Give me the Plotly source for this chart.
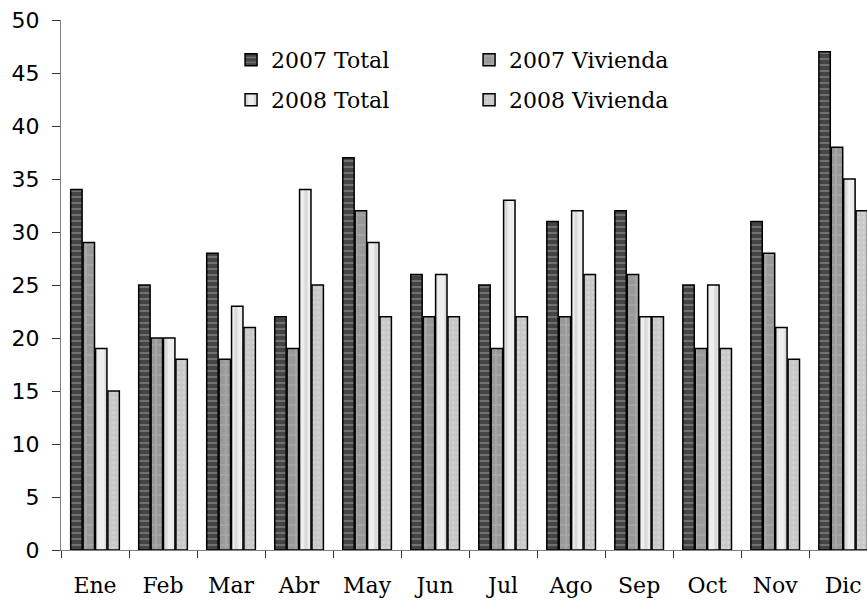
import plotly.graph_objects as go

meses = ["Ene", "Feb", "Mar", "Abr", "May", "Jun", "Jul", "Ago", "Sep", "Oct", "Nov", "Dic"]
total_2007 = [34, 25, 28, 22, 37, 26, 25, 31, 32, 25, 31, 47]
vivienda_2007 = [29, 20, 18, 19, 32, 22, 19, 22, 26, 19, 28, 38]
total_2008 = [19, 20, 23, 34, 29, 26, 33, 32, 22, 25, 21, 35]
vivienda_2008 = [15, 18, 21, 25, 22, 22, 22, 26, 22, 19, 18, 32]

series = [
    ("2007 Total", total_2007, "#444444", "-", "#a8a8a8", 6, "legend"),
    ("2007 Vivienda", vivienda_2007, "#999999", "+", "#b8b8b8", 10, "legend"),
    ("2008 Total", total_2008, "#eeeeee", "|", "#c4c4c4", 10, "legend2"),
    ("2008 Vivienda", vivienda_2008, "#c8c8c8", ".", "#dedede", 5, "legend2"),
]

fig = go.Figure()
for name, vals, color, shape, fg, size, leg in series:
    fig.add_trace(go.Bar(
        name=name, x=meses, y=vals, legend=leg,
        marker=dict(
            color=color,
            line=dict(color="#000000", width=1.5),
            pattern=dict(shape=shape, fgcolor=fg, bgcolor=color, size=size, solidity=0.3),
        ),
    ))

legend_style = dict(
    orientation="h", xanchor="left", yanchor="middle",
    entrywidth=193, entrywidthmode="pixels",
    font=dict(family="DejaVu Serif", size=22, color="#000000"),
    bgcolor="rgba(0,0,0,0)", itemwidth=30,
)

fig.update_layout(
    width=867, height=600,
    margin=dict(l=61, r=0, t=20, b=50),
    paper_bgcolor="white", plot_bgcolor="white",
    barmode="group", bargap=0.27, bargroupgap=0.08,
    showlegend=True,
    legend=dict(x=0.211, y=0.9245, **legend_style),
    legend2=dict(x=0.211, y=0.849, **legend_style),
    xaxis=dict(
        range=[-0.5, 11.35], showline=True, linecolor="#808080", linewidth=1,
        ticks="outside", tickson="boundaries", ticklen=7, tickcolor="#333333",
        ticklabelstandoff=16,
        tickfont=dict(family="DejaVu Serif", size=22, color="#000000"),
        showgrid=False, zeroline=False,
    ),
    yaxis=dict(
        range=[0, 50], dtick=5, showline=True, linecolor="#808080", linewidth=1,
        ticks="outside", ticklen=8, tickcolor="#333333",
        ticklabelstandoff=8,
        tickfont=dict(family="DejaVu Sans", size=22, color="#000000"),
        showgrid=False, zeroline=False,
    ),
)

fig.write_html("out.html")
